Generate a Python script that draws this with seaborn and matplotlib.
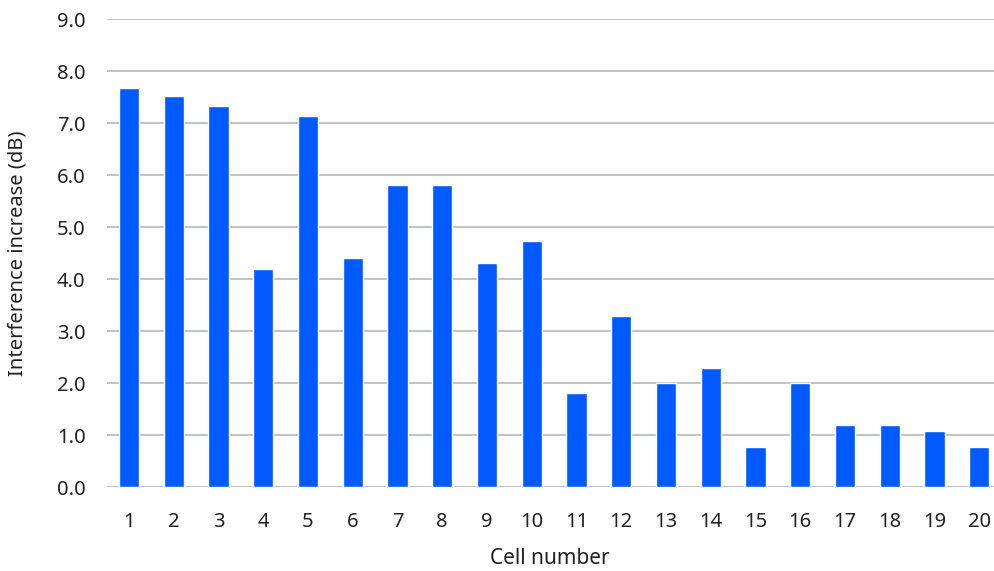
import matplotlib
matplotlib.use('Agg')
import matplotlib.pyplot as plt
import seaborn as sns
import pandas as pd

# Values
cells = [str(i) for i in range(1, 21)]
increase_db = [7.68, 7.52, 7.33, 4.2, 7.14, 4.4, 5.8, 5.8, 4.3, 4.74,
               1.81, 3.3, 2.0, 2.3, 0.78, 2.0, 1.2, 1.2, 1.08, 0.78]
y_ticks = [0, 1, 2, 3, 4, 5, 6, 7, 8, 9]

df = pd.DataFrame({'Cell': cells, 'Increase': increase_db})

sns.set_style('white')
plt.rcParams['font.family'] = ['Noto Sans', 'DejaVu Sans']
text_color = '#222222'

fig = plt.figure(figsize=(9.94, 5.71), dpi=100)
ax = fig.add_axes([0.1072, 0.1468, 0.8928, 0.8199])

sns.barplot(data=df, x='Cell', y='Increase', color='#005AFF', saturation=1,
            width=0.45, ax=ax, zorder=3)

ax.set_ylim(0, 9)
ax.set_xlim(-0.5, 19.33)
ax.set_yticks(y_ticks)
ax.set_yticklabels([f'{t:.1f}' for t in y_ticks])
ax.yaxis.grid(True, color='#B4B8BE', linewidth=1.2, zorder=0)
ax.xaxis.grid(False)
for side in ['top', 'right', 'left', 'bottom']:
    ax.spines[side].set_visible(False)

ax.tick_params(axis='y', length=0, pad=15, labelsize=14.5, labelcolor=text_color)
ax.tick_params(axis='x', length=0, pad=18, labelsize=14.5, labelcolor=text_color)
ax.set_xlabel('Cell number', fontsize=15, color=text_color)
ax.set_ylabel('Interference increase (dB)', fontsize=14.5, color=text_color)
ax.xaxis.set_label_coords(0.5, -0.152)
ax.yaxis.set_label_coords(-0.100, 0.5)
ax.xaxis.label.set_va('center')
ax.yaxis.label.set_va('center')

fig.savefig('out.png', dpi=100)
